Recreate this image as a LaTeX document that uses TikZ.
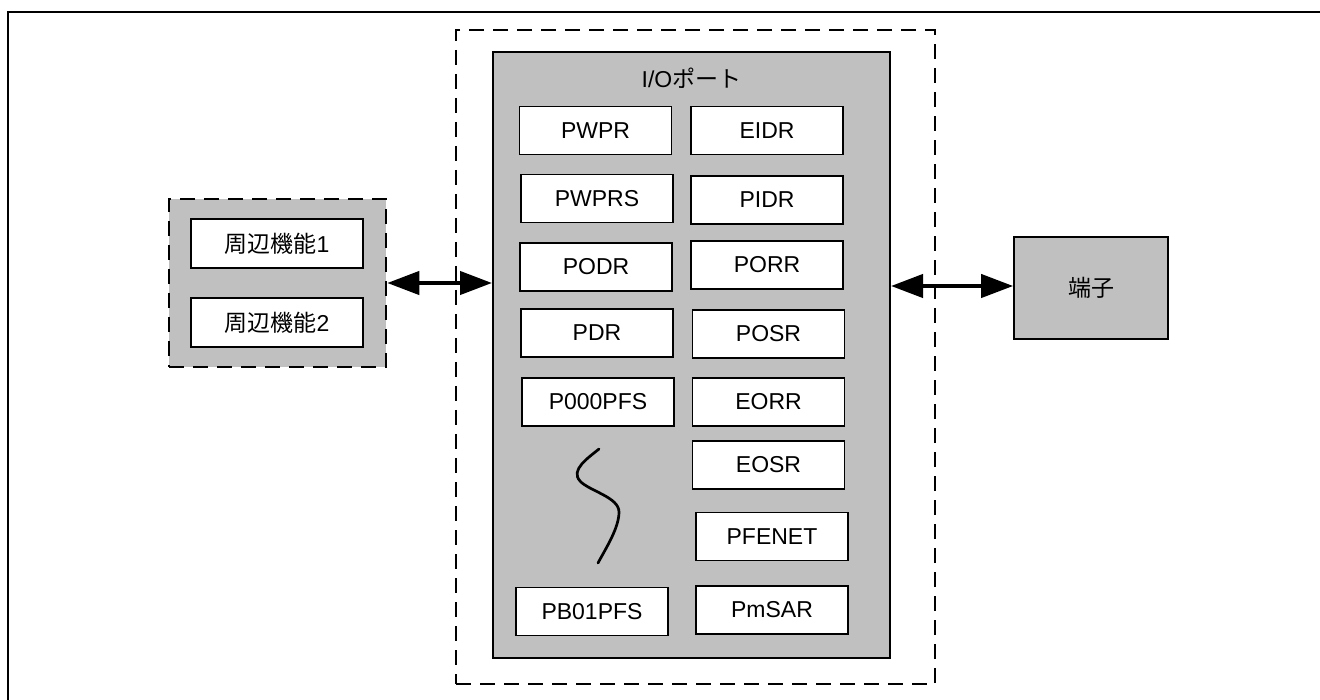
\documentclass[tikz,border=0pt]{standalone}
\usepackage{fontspec}
\setmainfont{Liberation Sans}
\newfontfamily\jp{Noto Sans CJK JP}
\usetikzlibrary{arrows.meta}
\definecolor{boxgray}{RGB}{192,192,192}
\begin{document}
\begin{tikzpicture}[x=1pt,y=-1pt,
  txt/.style={font=\fontsize{23}{27}\selectfont},
  regbox/.style={draw, fill=white, line width=1.4pt, minimum width=152pt, minimum height=48pt, inner sep=0pt, txt},
  dashframe/.style={draw, line width=2.5pt, dash pattern=on 15pt off 9pt, inner sep=0pt},
  bigarrow/.style={line width=4.2pt, {Triangle[length=32pt,width=23pt]}-{Triangle[length=32pt,width=23pt]}}
]
\useasboundingbox (0,0) rectangle (1320,700);
\clip (0,0) rectangle (1320,700);

% outer frame (cut off by the page at right and bottom)
\draw[line width=2.2pt] (8,720) -- (8,12) -- (1340,12);

% large dashed region
\node[dashframe, minimum width=479pt, minimum height=654pt] (region) at (695.5,357) {};

% I/O port block
\node[draw, fill=boxgray, line width=2pt, minimum width=397pt, minimum height=606pt, inner sep=0pt] (io) at (691.5,355) {};
\node[txt, inner sep=0pt] (iotitle) at (691.5,78) {I/O{\jp ポート}};

% left column registers
\node[regbox] (pwpr)   at (595.5,130.5) {PWPR};
\node[regbox] (pwprs)  at (597,198.5)   {PWPRS};
\node[regbox] (podr)   at (596,267)     {PODR};
\node[regbox] (pdr)    at (597,333)     {PDR};
\node[regbox] (p000)   at (598,402)     {P000PFS};
\node[regbox] (pb01)   at (592,611.5)   {PB01PFS};

% right column registers
\node[regbox] (eidr)   at (767,130.5)   {EIDR};
\node[regbox] (pidr)   at (767,200)     {PIDR};
\node[regbox] (porr)   at (767,265)     {PORR};
\node[regbox] (posr)   at (768.5,334)   {POSR};
\node[regbox] (eorr)   at (768.5,402)   {EORR};
\node[regbox] (eosr)   at (768.5,465)   {EOSR};
\node[regbox] (pfenet) at (772,536.5)   {PFENET};
\node[regbox] (pmsar)  at (772,610)     {PmSAR};

% omission squiggle
\draw[line width=2.7pt, line cap=round]
  (599,449) .. controls (588,458) and (570,470) .. (580,481)
            .. controls (589,491) and (619,497) .. (619,512)
            .. controls (619,528) and (606,548) .. (598,563);

% peripheral functions group
\node[dashframe, fill=boxgray, minimum width=217pt, minimum height=168pt] (periph) at (277.5,283) {};
\node[regbox, minimum width=172pt, minimum height=49pt] (pf1) at (277,243.5) {{\jp 周辺機能}1};
\node[regbox, minimum width=172pt, minimum height=49pt] (pf2) at (277,322.5) {{\jp 周辺機能}2};

% terminal
\node[draw, fill=boxgray, line width=1.7pt, minimum width=154pt, minimum height=102pt, inner sep=0pt, txt] (term) at (1091,288) {\jp 端子};

% connectors
\draw[bigarrow] (periph.east) -- (periph.east -| io.west);
\draw[bigarrow] (io.east |- 0,286) -- (term.west |- 0,286);
\end{tikzpicture}
\end{document}
